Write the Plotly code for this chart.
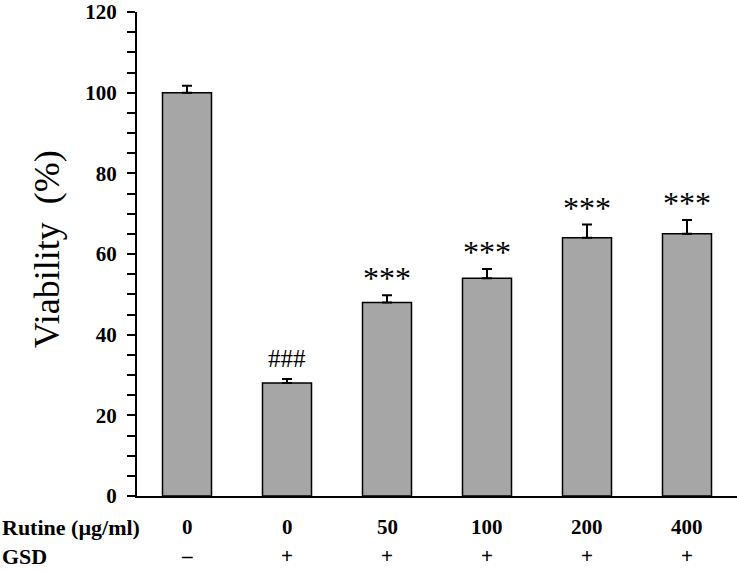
import plotly.graph_objects as go

# data
groups = ["0", "0", "50", "100", "200", "400"]
gsd = ["\u2013", "+", "+", "+", "+", "+"]
viability = [100, 28, 48, 54, 64, 65]
err_up = [1.7, 1.0, 1.8, 2.3, 3.3, 3.4]
marks = ["", "###", "***", "***", "***", "***"]

xs = list(range(len(groups)))
serif = "Liberation Serif, Times New Roman, serif"

fig = go.Figure()
fig.add_bar(
    x=xs, y=viability, width=0.49,
    marker=dict(color="#a6a6a6", line=dict(color="black", width=1.5)),
    error_y=dict(type="data", array=err_up, arrayminus=[0] * len(xs), symmetric=False,
                 color="black", thickness=2, width=5),
)

# significance marks sit just above the error bars
for x, m, v, e in zip(xs, marks, viability, err_up):
    if m == "***":
        fig.add_annotation(x=x, y=v + e, text=m, showarrow=False, yanchor="bottom", yshift=-3,
                           font=dict(family=serif, size=32, color="black"))
    elif m:
        fig.add_annotation(x=x, y=v + e, text=m, showarrow=False, yanchor="bottom", yshift=5,
                           font=dict(family=serif, size=25, color="black"))

# rows under the axis (plot height is 484 px)
row1 = -31 / 484
row2 = -60 / 484
lab = dict(family=serif, size=21, color="black")
for x, g, s in zip(xs, groups, gsd):
    fig.add_annotation(x=x, y=row1, yref="paper", yanchor="middle", text="<b>%s</b>" % g,
                       showarrow=False, font=lab)
    fig.add_annotation(x=x, y=row2, yref="paper", yanchor="middle", text="<b>%s</b>" % s,
                       showarrow=False, font=lab)
fig.add_annotation(x=0, xref="paper", xshift=-137, xanchor="left", y=row1, yref="paper",
                   yanchor="middle", text="<b>Rutine (\u00b5g/ml)</b>", showarrow=False,
                   font=dict(family=serif, size=22, color="black"))
fig.add_annotation(x=0, xref="paper", xshift=-137, xanchor="left", y=row2, yref="paper",
                   yanchor="middle", text="<b>GSD</b>", showarrow=False,
                   font=dict(family=serif, size=22, color="black"))

fig.add_annotation(x=0, xref="paper", xshift=-90, xanchor="center", y=0.51, yref="paper",
                   textangle=-90, text="Viability  (%)", showarrow=False,
                   font=dict(family=serif, size=36, color="black"))

fig.update_layout(
    width=737, height=571,
    margin=dict(l=137, r=0, t=12, b=75),
    plot_bgcolor="white", paper_bgcolor="white",
    showlegend=False,
    xaxis=dict(range=[-0.5, 5.5], showticklabels=False, ticks="", showgrid=False,
               showline=True, linecolor="black", linewidth=2, zeroline=False,
               automargin=False),
    yaxis=dict(range=[0, 120], dtick=20, ticks="outside", ticklen=8, tickwidth=1.5,
               tickcolor="black", showgrid=False, showline=True, linecolor="black",
               linewidth=2, zeroline=False, ticklabelstandoff=6, automargin=False,
               ticklabeloverflow="allow",
               tickfont=dict(family=serif, size=21, color="black"),
               tickprefix="<b>", ticksuffix="</b>",
               minor=dict(dtick=5, ticks="outside", ticklen=8, tickwidth=1.5,
                          tickcolor="black", showgrid=False)),
)

# drop the default page margin so the 737x571 figure fills the window
fig.write_html("out.html", config={"displayModeBar": False},
               post_script="document.body.style.margin='0';document.body.style.overflow='hidden';")
